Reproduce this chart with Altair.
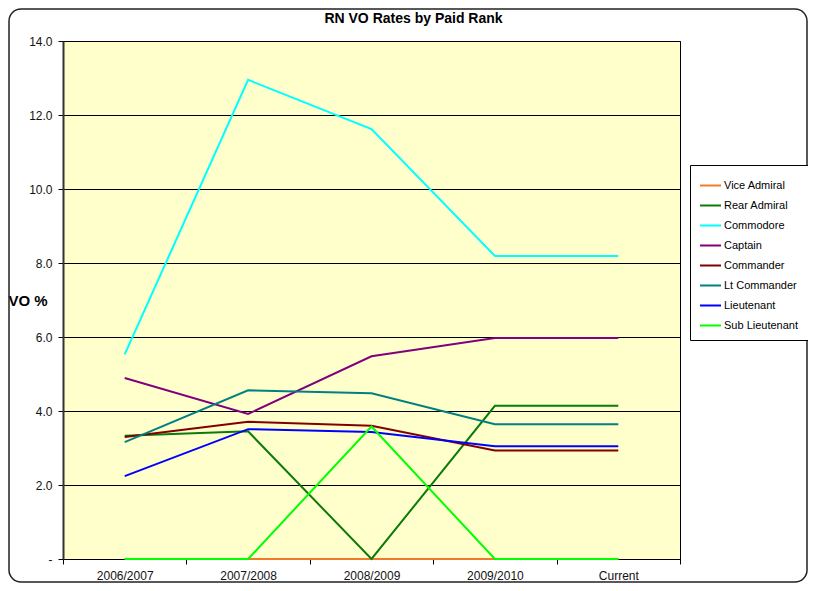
import altair as alt
import pandas as pd

periods = ["2006/2007", "2007/2008", "2008/2009", "2009/2010", "Current"]
ranks = ["Vice Admiral", "Rear Admiral", "Commodore", "Captain", "Commander",
         "Lt Commander", "Lieutenant", "Sub Lieutenant"]
vice_admiral = [0, 0, 0, 0, 0]
rear_admiral = [3.33, 3.45, 0, 4.14, 4.14]
commodore = [5.53, 12.95, 11.62, 8.19, 8.19]
captain = [4.89, 3.92, 5.48, 5.97, 5.97]
commander = [3.30, 3.71, 3.60, 2.93, 2.93]
lt_commander = [3.16, 4.56, 4.48, 3.64, 3.64]
lieutenant = [2.24, 3.51, 3.43, 3.05, 3.05]
sub_lieutenant = [0, 0, 3.58, 0, 0]
colors = ["#F07A2A", "#0A7A0A", "#00FFFF", "#800080", "#800000",
          "#008080", "#0000FF", "#00FF00"]

series = [vice_admiral, rear_admiral, commodore, captain, commander,
          lt_commander, lieutenant, sub_lieutenant]
rows = []
for i, (r, vals) in enumerate(zip(ranks, series)):
    for p, v in zip(periods, vals):
        rows.append({"Rank": r, "Period": p, "VO": v, "ord": i})
df = pd.DataFrame(rows)

FONT = "Liberation Sans"
W, H = 617, 518
PL, PT, PR, PB = 55, 33, 128, 24

lines = alt.Chart(df).mark_line(strokeWidth=2).encode(
    x=alt.X("Period:N", sort=periods, bandPosition=0.5,
            scale=alt.Scale(type="band", paddingInner=0, paddingOuter=0),
            axis=alt.Axis(title=None, labelAngle=0, tickBand="extent",
                          labelFontSize=12, labelColor="#111", labelFont=FONT,
                          tickSize=5, tickColor="#000", domainColor="#000",
                          labelPadding=6, grid=False)),
    y=alt.Y("VO:Q", scale=alt.Scale(domain=[0, 14], nice=False),
            axis=alt.Axis(title="VO %", titleAngle=0, titleAlign="left",
                          titleBaseline="middle", titleX=-55, titleY=H / 2,
                          titleFontSize=15, titleFont=FONT, titleFontWeight="bold",
                          titleColor="#000",
                          values=[0, 2, 4, 6, 8, 10, 12, 14],
                          labelExpr="datum.value == 0 ? '-' : format(datum.value, '.1f')",
                          labelFontSize=12, labelFont=FONT, labelColor="#111",
                          tickSize=5, tickColor="#000", labelPadding=6,
                          domainColor="#333", domainWidth=2,
                          grid=True, gridColor="#000", gridWidth=1)),
    color=alt.Color("Rank:N", sort=ranks,
                    scale=alt.Scale(domain=ranks, range=colors),
                    legend=alt.Legend(title=None, orient="none",
                                      legendX=627, legendY=124,
                                      symbolType="stroke", symbolSize=441,
                                      symbolStrokeWidth=2,
                                      labelFontSize=11, labelFont=FONT,
                                      labelColor="#000", labelOffset=2,
                                      rowPadding=3, padding=9,
                                      strokeColor="#000", fillColor="#fff")),
    order=alt.Order("ord:Q"),
    detail="Rank:N",
)

frame = alt.Chart(alt.Data(values=[{}])).mark_rect(
    filled=False, stroke="#222", strokeWidth=1.5, cornerRadius=12
).encode(
    x=alt.value(-PL + 1), x2=alt.value(W + PR - 1),
    y=alt.value(-PT + 1), y2=alt.value(H + PB - 1),
)

chart = alt.layer(frame, lines).properties(
    width=W, height=H,
    padding={"left": PL, "top": PT, "right": PR, "bottom": PB},
    autosize=alt.AutoSizeParams(type="none"),
    background="#FFFFFF",
    title=alt.TitleParams("RN VO Rates by Paid Rank", fontSize=14,
                          fontWeight="bold", font=FONT, color="#000",
                          anchor="middle", dx=42, offset=-18),
).configure_view(
    fill="#FFFFCC", stroke="#000", strokeWidth=1
)

chart.save("out.html", embed_options={"renderer": "svg", "actions": False})
